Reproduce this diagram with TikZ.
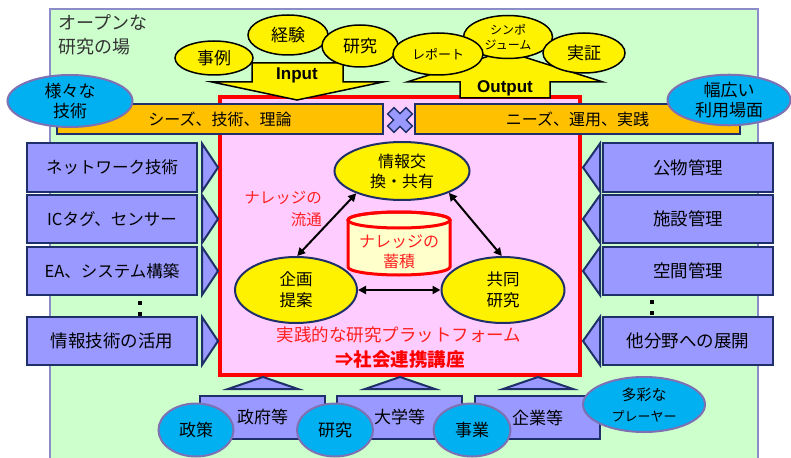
\documentclass[tikz,border=0pt]{standalone}
\usepackage{fontspec}
\setmainfont{Noto Sans CJK JP}
\newfontfamily\latinfont{Liberation Sans}
\usetikzlibrary{arrows.meta,shapes.geometric}
\definecolor{bggreen}{HTML}{CCFFCC}
\definecolor{frameblue}{HTML}{8C8CC8}
\definecolor{navy}{HTML}{1F2F6A}
\definecolor{lpurple}{HTML}{9999FF}
\definecolor{orangebar}{HTML}{FFC000}
\definecolor{pinkbg}{HTML}{FFCCFF}
\definecolor{skyblue}{HTML}{00B0F0}
\definecolor{cylfill}{HTML}{FFFFCC}
\definecolor{bordpurple}{HTML}{7F70B4}
\definecolor{darktext}{HTML}{333333}
\definecolor{redtext}{HTML}{FF2020}
\newcommand{\fsz}[2]{\fontsize{#1}{#2}\selectfont}
\tikzset{
  yell/.style={ellipse, draw=black, line width=1.5pt, fill=yellow, inner sep=0pt, align=center, font=\fsz{17}{20}},
  cyanell/.style={ellipse, draw=bordpurple, line width=2pt, fill=skyblue, inner sep=0pt, align=center, font=\fsz{17}{20}},
  cell/.style={ellipse, draw=navy, line width=2pt, fill=yellow, inner sep=0pt, align=center, font=\fsz{16.5}{21}},
  pbox/.style={draw=navy, line width=2pt, fill=lpurple, minimum width=170pt, minimum height=48pt, inner sep=0pt},
  bbox/.style={draw=navy, line width=2pt, fill=lpurple, minimum width=125pt, minimum height=43pt, inner sep=0pt, font=\fsz{17}{20}},
  tri/.style={draw=navy, line width=2pt, fill=lpurple, line join=miter},
  obar/.style={draw=navy, line width=2pt, fill=orangebar, minimum height=30pt, inner sep=0pt, font=\fsz{16}{18}},
  bigarrow/.style={draw=black, line width=1.5pt, fill=yellow, line join=miter},
  dbl/.style={{Triangle[length=8pt,width=8pt]}-{Triangle[length=8pt,width=8pt]}, line width=2pt, black},
  dotmark/.style={fill=black, inner sep=0pt, minimum size=3.5pt}
}
\begin{document}
\begin{tikzpicture}[x=1pt,y=1pt]
\useasboundingbox (0,0) rectangle (791,-457);
% background field
\draw[fill=bggreen, draw=frameblue, line width=1.5pt] (50,-9) rectangle (758,-470);
\node[anchor=north west, align=left, text=darktext, font=\fsz{18}{24}, inner sep=0pt] (field) at (58,-14) {オープンな\\研究の場};

% red platform frame
\draw[fill=pinkbg, draw=red, line width=4pt] (220,-97) rectangle (580,-375);

% input / output arrows
\draw[bigarrow] (252,-63) -- (252,-82) -- (212,-82) -- (297,-100) -- (383,-82) -- (343,-82) -- (343,-63) -- cycle;
\node[font=\latinfont\bfseries\fsz{17}{20}] (inlbl) at (297,-75) {Input};
\draw[bigarrow] (460,-98) -- (460,-82) -- (407,-82) -- (505,-51) -- (603,-82) -- (550,-82) -- (550,-98) -- cycle;
\node[font=\latinfont\bfseries\fsz{17}{20}] (outlbl) at (505,-88) {Output};

% input ellipses
\node[yell, minimum width=78pt, minimum height=34pt] (jirei) at (214,-58) {事例};
\node[yell, minimum width=80pt, minimum height=40pt] (keiken) at (288,-35) {経験};
\node[yell, minimum width=76pt, minimum height=42pt] (kenkyu) at (360,-46) {研究};
% output ellipses
\node[yell, minimum width=89pt, minimum height=43pt, font=\fsz{12}{15}] (sympo) at (508,-37) {シンポ\\ジューム};
\node[yell, minimum width=90pt, minimum height=42pt, font=\fsz{13}{15}] (report) at (438,-54) {レポート};
\node[yell, minimum width=82pt, minimum height=40pt] (jissho) at (584,-53) {実証};

% orange bars
\node[obar, minimum width=326pt] (seeds) at (220,-119) {シーズ、技術、理論};
\node[obar, minimum width=325pt] (needs) at (577.5,-119) {ニーズ、運用、実践};
\draw[fill=lpurple, draw=navy, line width=1.5pt, rotate around={45:(400,-120)}]
  (395.5,-107) -- (404.5,-107) -- (404.5,-115.5) -- (413,-115.5) -- (413,-124.5) -- (404.5,-124.5)
  -- (404.5,-133) -- (395.5,-133) -- (395.5,-124.5) -- (387,-124.5) -- (387,-115.5) -- (395.5,-115.5) -- cycle;

% side blue ellipses
\node[cyanell, minimum width=125pt, minimum height=52pt] (samazama) at (70,-101) {様々な\\技術};
\node[cyanell, minimum width=123pt, minimum height=50pt] (habahiroi) at (729,-100) {幅広い\\利用場面};

% left boxes
\node[pbox, font=\fsz{16.5}{20}] (l1) at (112,-167.5) {ネットワーク技術};
\node[pbox, font=\fsz{16.5}{20}] (l2) at (112,-219) {ICタグ、センサー};
\node[pbox, font=\fsz{16.5}{20}] (l3) at (112,-271) {EA、システム構築};
\node[pbox, font=\fsz{17.5}{20}] (l4) at (112,-341) {情報技術の活用};
\foreach \yc in {-167.5,-219,-271,-341}{
  \draw[tri] (202,\yc+24) -- (218,\yc) -- (202,\yc-24) -- cycle;
}
\node[dotmark] (ldot1) at (140,-303) {};
\node[dotmark] (ldot2) at (140,-314) {};

% right boxes
\node[pbox, font=\fsz{17.5}{20}] (r1) at (688,-167.5) {公物管理};
\node[pbox, font=\fsz{17.5}{20}] (r2) at (688,-219) {施設管理};
\node[pbox, font=\fsz{17.5}{20}] (r3) at (688,-271) {空間管理};
\node[pbox, font=\fsz{17.5}{20}] (r4) at (688,-341) {他分野への展開};
\foreach \yc in {-167.5,-219,-271,-341}{
  \draw[tri] (600,\yc+24) -- (583,\yc) -- (600,\yc-24) -- cycle;
}
\node[dotmark] (rdot1) at (652,-302) {};
\node[dotmark] (rdot2) at (652,-313) {};

% centre: knowledge cycle
\draw[fill=cylfill, draw=red, line width=3pt] (348,-220) -- (348,-267) arc (180:360:51 and 8) -- (450,-220) arc (0:180:51 and 8) -- cycle;
\draw[draw=red, line width=3pt] (399,-220) ellipse (51 and 8);
\node[text=redtext, font=\fsz{16}{20}, align=center] (chiku) at (399,-252) {ナレッジの\\蓄積};

\node[cell, minimum width=135pt, minimum height=58pt, font=\fsz{16}{20}] (joho) at (402,-171) {情報交\\換・共有};
\node[cell, minimum width=122pt, minimum height=66pt] (kikaku) at (296,-290) {企画\\提案};
\node[cell, minimum width=123pt, minimum height=66pt] (kyodo) at (503,-290) {共同\\研究};

\draw[dbl] (kikaku.88) -- (joho.206);
\draw[dbl] (joho.335) -- (kyodo.92);
\draw[dbl] (kikaku.east) -- (kyodo.west);

\node[anchor=east, align=right, text=redtext, font=\fsz{15.5}{22}, inner sep=0pt] (ryutsu) at (322,-208.5) {ナレッジの\\流通};
\node[text=redtext, font=\fsz{17.5}{20}, inner sep=0pt] (platform) at (399,-335) {実践的な研究プラットフォーム};
\node[text=red, font=\bfseries\fsz{18.5}{20}, inner sep=0pt] (koza) at (400,-359) {⇒社会連携講座};

% bottom triangles
\foreach \xc in {263,400,538}{
  \draw[tri] (\xc-35,-389) -- (\xc,-377) -- (\xc+35,-389) -- cycle;
}
% bottom boxes
\node[bbox] (seifu) at (262.5,-417.5) {政府等};
\node[bbox] (daigaku) at (399.5,-417.5) {大学等};
\node[bbox] (kigyo) at (537.5,-417.5) {企業等};
% bottom blue ellipses
\node[cyanell, minimum width=75pt, minimum height=53pt] (seisaku) at (196,-430) {政策};
\node[cyanell, minimum width=76pt, minimum height=53pt] (kenkyu2) at (335,-430) {研究};
\node[cyanell, minimum width=77pt, minimum height=53pt] (jigyo) at (472,-430) {事業};
\node[cyanell, minimum width=122pt, minimum height=55pt, font=\fsz{15}{21}] (tasai) at (644,-404.5) {多彩な\\{\fsz{13}{21}プレーヤー}};
\end{tikzpicture}
\end{document}
